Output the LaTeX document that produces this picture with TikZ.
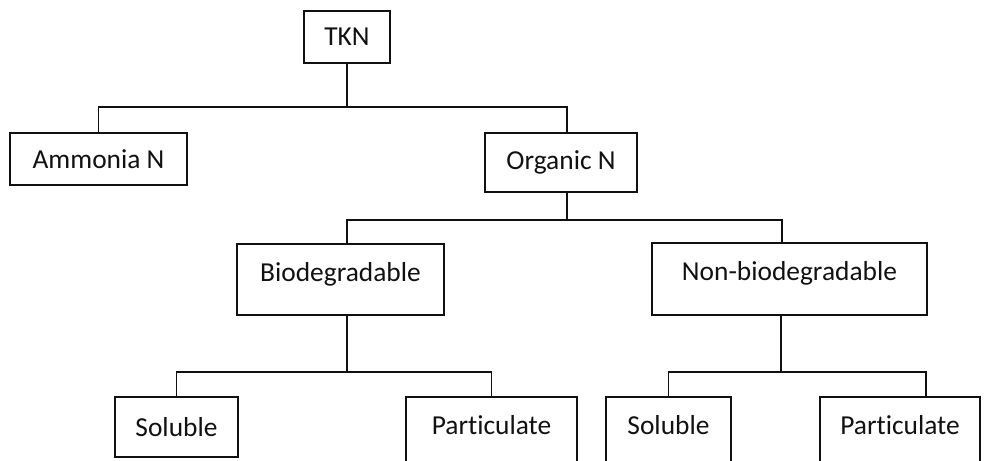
\documentclass[tikz,border=0pt]{standalone}
\usepackage{fontspec}
\setmainfont{Carlito}[Ligatures=NoCommon]
\usepackage{xcolor}
\usepackage{tikz}
\definecolor{TKInk}{HTML}{111111}

\begin{document}
\begin{tikzpicture}[x=1cm,y=1cm,
  tbox/.style={draw=TKInk,line width=1.1pt,inner sep=0pt,text=TKInk,font=\fontsize{15.6}{18}\selectfont},
  cutbox/.style={tbox,minimum height=2.00cm,text depth=0.89cm},
  link/.style={draw=TKInk,line width=1.1pt}]
\path[use as bounding box] (0,0) rectangle (19.80,9.20);
\node[tbox,minimum width=1.72cm,minimum height=1.04cm] (tkn) at (6.94,8.46) {TKN};
\node[tbox,minimum width=3.54cm,minimum height=1.04cm] (ammonia) at (1.97,6.02) {Ammonia N};
\node[tbox,minimum width=3.04cm,minimum height=1.18cm] (organic) at (11.22,5.95) {Organic N};
\node[tbox,minimum width=4.14cm,minimum height=1.42cm,text depth=0.31cm] (bio) at (6.81,3.61) {Biodegradable};
\node[tbox,minimum width=5.50cm,minimum height=1.44cm,text depth=0.31cm] (nonbio) at (15.79,3.62) {Non-biodegradable};
\node[tbox,minimum width=2.46cm,minimum height=1.20cm] (biosol) at (3.53,0.66) {Soluble};
\node[cutbox,minimum width=3.42cm] (biopart) at (9.83,0.26) {Particulate};
\node[cutbox,minimum width=2.50cm] (nbsol) at (13.37,0.26) {Soluble};
\node[cutbox,minimum width=3.20cm] (nbpart) at (18.00,0.26) {Particulate};
\coordinate (tknjoin) at (6.94,7.06);
\coordinate (orgjoin) at (11.34,4.80);
\coordinate (biojoin) at (6.94,1.76);
\coordinate (nbjoin) at (15.62,1.76);
\draw[link] (tkn) -- (tknjoin);
\draw[link] (tknjoin) -| (ammonia);
\draw[link] (tknjoin) -| ([xshift=0.12cm]organic.north);
\draw[link] ([xshift=0.12cm]organic.south) -- (orgjoin);
\draw[link] (orgjoin) -| ([xshift=0.13cm]bio.north);
\draw[link] (orgjoin) -| ([xshift=-0.15cm]nonbio.north);
\draw[link] ([xshift=0.13cm]bio.south) -- (biojoin);
\draw[link] (biojoin) -| (biosol);
\draw[link] (biojoin) -| (biopart);
\draw[link] ([xshift=-0.17cm]nonbio.south) -- (nbjoin);
\draw[link] (nbjoin) -| (nbsol);
\draw[link] (nbjoin) -| ([xshift=0.52cm]nbpart.north);
\end{tikzpicture}
\end{document}
